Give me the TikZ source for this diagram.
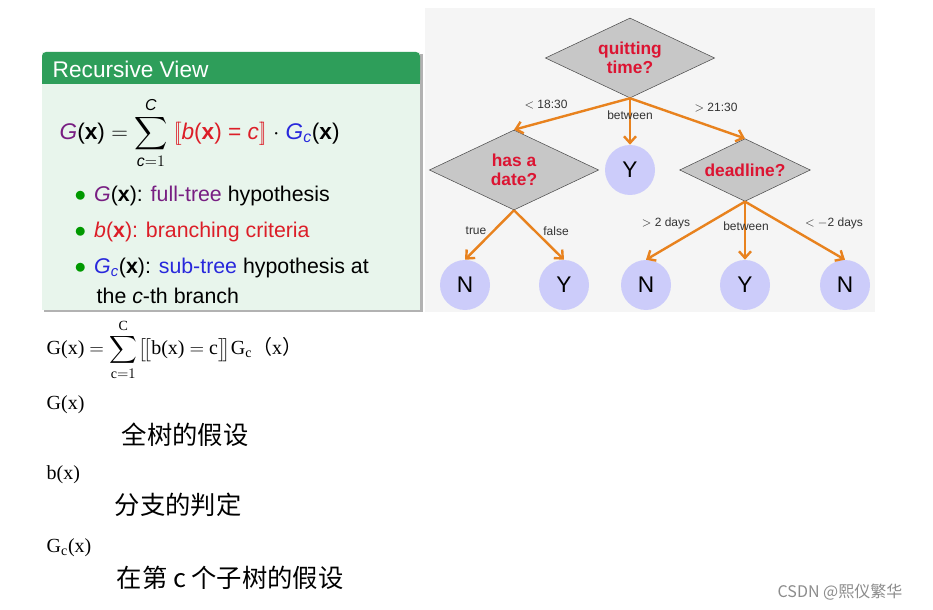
\documentclass[tikz,border=0pt]{standalone}
\usepackage{amsmath}
\usepackage{fontspec}
\setmainfont{Liberation Serif}
\setsansfont{Liberation Sans}
\newfontfamily\cjk{Noto Sans CJK SC}
\usetikzlibrary{shapes.geometric,arrows.meta}
\definecolor{org}{RGB}{232,130,30}
\definecolor{qred}{RGB}{220,20,50}
\definecolor{leaf}{RGB}{204,204,250}
\definecolor{gpur}{RGB}{120,30,130}
\definecolor{gblu}{RGB}{40,40,220}
\definecolor{bred}{RGB}{220,30,40}
\definecolor{cardbg}{RGB}{232,245,236}
\definecolor{cardhd}{RGB}{46,158,90}
\tikzset{
 dia/.style={diamond,draw=black!70,fill=black!22,aspect=2.1,inner sep=0pt,font=\sffamily\bfseries\fontsize{13}{14}\selectfont,text=qred,align=center},
 lf/.style={circle,fill=leaf,minimum size=37.5pt,inner sep=0pt,font=\sffamily\fontsize{17}{18}\selectfont},
 ed/.style={draw=org,line width=1.8pt,-{Straight Barb[length=5pt,width=9pt]}},
 el/.style={font=\sffamily\fontsize{9}{10}\selectfont,text=black!80},
 ch/.style={font=\cjk\fontsize{19}{20}\selectfont,anchor=west},
 tm/.style={font=\fontsize{15}{16}\selectfont,anchor=west}
}
\begin{document}
\begin{tikzpicture}[x=0.75pt,y=-0.75pt]
\useasboundingbox (0,0) rectangle (933,610);
\fill[white] (0,0) rectangle (933,610);
\fill[black!4] (425,8) rectangle (875,312);
% card
\fill[black!30] (44,54) rectangle (423,312);
\fill[cardbg] (42,52) rectangle (420,310);
\fill[cardhd,rounded corners=3pt] (42,52) rectangle (420,84);
\fill[cardhd] (42,70) rectangle (420,84);
\node[anchor=west,text=white,font=\sffamily\fontsize{17}{18}\selectfont] (title) at (48,69) {Recursive View};
\node[anchor=west,font=\sffamily\fontsize{17}{18}\selectfont] (form) at (55,133) {\textcolor{gpur}{\textit{G}}(\textbf{x}) $=\displaystyle\sum_{\textit{c}=1}^{\textit{C}}$ \textcolor{bred}{$[\![$\textit{b}(\textbf{x}) = \textit{c}$]\!]$} $\cdot$ \textcolor{gblu}{\textit{G}$_{\textit{c}}$}(\textbf{x})};
\begin{scope}[font=\sffamily\fontsize{16}{17}\selectfont]
\node[anchor=west] (b1) at (70,196) {\textcolor{green!60!black}{$\bullet$}\hspace{6pt}\textcolor{gpur}{\textit{G}}(\textbf{x}): \textcolor{gpur}{full-tree} hypothesis};
\node[anchor=west] (b2) at (70,232) {\textcolor{green!60!black}{$\bullet$}\hspace{6pt}\textcolor{bred}{\textit{b}(\textbf{x}): branching criteria}};
\node[anchor=west] (b3) at (70,268) {\textcolor{green!60!black}{$\bullet$}\hspace{6pt}\textcolor{gblu}{\textit{G}$_{\textit{c}}$}(\textbf{x}): \textcolor{gblu}{sub-tree} hypothesis at};
\node[anchor=west] (b4) at (92,296) {the \textit{c}-th branch};
\end{scope}
% tree
\node[dia,minimum width=127pt,minimum height=60pt] (q) at (630,58) {quitting\\time?};
\node[dia,minimum width=127pt,minimum height=60pt] (d) at (514,170) {has a\\date?};
\node[dia,minimum width=98pt,minimum height=47pt] (dl) at (745,170) {deadline?};
\node[lf] (y0) at (630,170) {Y};
\node[lf] (n1) at (465,285) {N};
\node[lf] (y1) at (564,285) {Y};
\node[lf] (n2) at (646,285) {N};
\node[lf] (y2) at (745,285) {Y};
\node[lf] (n3) at (845,285) {N};
\draw[ed] (q.south) -- (d.north);
\draw[ed] (q.south) -- (y0.north);
\draw[ed] (q.south) -- (dl.north);
\draw[ed] (d.south) -- (n1.north);
\draw[ed] (d.south) -- (y1.north);
\draw[ed] (dl.south) -- (n2.north);
\draw[ed] (dl.south) -- (y2.north);
\draw[ed] (dl.south) -- (n3.north);
\node[el] (l1) at (546,105) {$<$ 18:30};
\node[el] (l2) at (630,115) {between};
\node[el] (l3) at (716,108) {$>$ 21:30};
\node[el] (l4) at (476,231) {true};
\node[el] (l5) at (556,231) {false};
\node[el] (l6) at (666,223) {$>$ 2 days};
\node[el] (l7) at (746,226) {between};
\node[el] (l8) at (834,223) {$<$ $-$2 days};
% bottom
\node[tm] (f) at (42,350) {G(x) $=\displaystyle\sum_{\mathrm{c}=1}^{\mathrm{C}}$\hspace{1pt}$\big[\!\big[$b(x) $=$ c$\big]\!\big]$G$_{\mathrm{c}}${\cjk（}x{\cjk）}};
\node[tm] (g) at (42,405) {G(x)};
\node[ch] (gt) at (117,435) {全树的假设};
\node[tm] (b) at (42,475) {b(x)};
\node[ch] (bt) at (110,505) {分支的判定};
\node[tm] (gc) at (42,548) {G$_{\mathrm{c}}$(x)};
\node[ch] (gct) at (112,578) {在第 c 个子树的假设};
\node[font=\cjk\fontsize{12}{13}\selectfont,text=black!45] (wm) at (840,592) {CSDN @熙仪繁华};
\end{tikzpicture}
\end{document}
